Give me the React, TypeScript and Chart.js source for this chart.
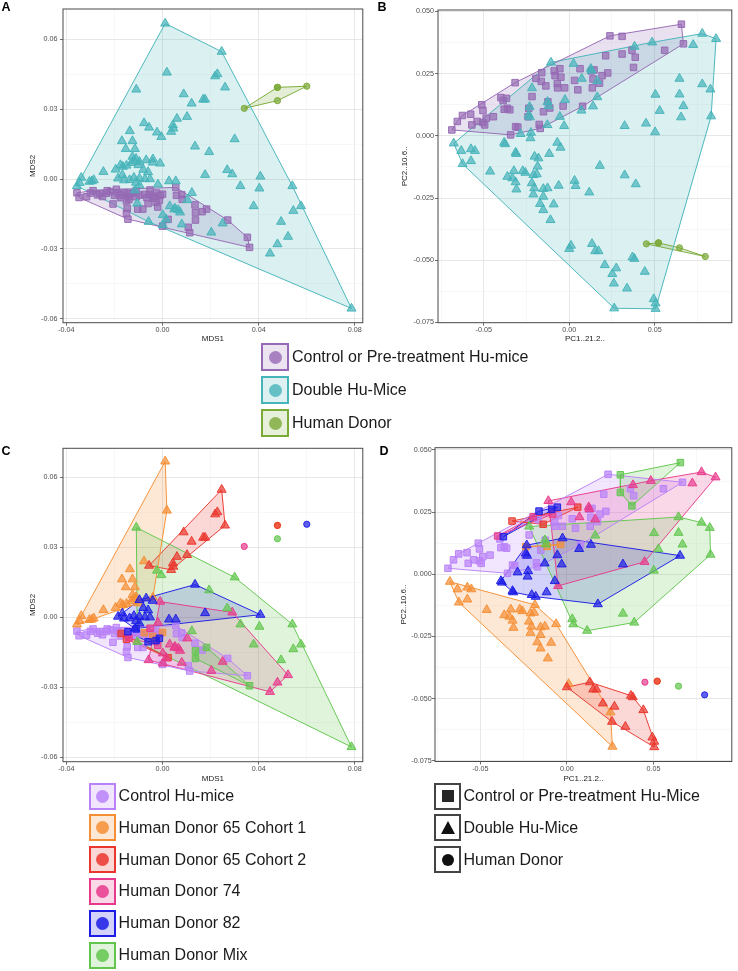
import React, { useEffect, useRef } from 'react';
import { Chart, registerables } from 'chart.js';
Chart.register(...registerables);

type P = [number, number];

// ================= MDS coordinates (panels A and C) =================
const mdsControlSq: P[] = [
  [-0.0356, -0.0059], [-0.0347, -0.0079], [-0.0316, -0.0076], [-0.0289, -0.005], [-0.0261, -0.0061],
  [-0.0234, -0.0061], [-0.0217, -0.0054], [-0.0192, -0.0044], [-0.0206, -0.0107], [-0.0158, -0.0058],
  [-0.0147, -0.0126], [-0.0144, -0.0172], [-0.015, -0.0147], [-0.011, -0.0076], [-0.0096, -0.0069],
  [-0.0103, -0.0129], [-0.0082, -0.0129], [-0.0065, -0.008], [-0.0055, -0.0067], [-0.0035, -0.0074],
  [-0.0025, -0.006], [-0.001, -0.007], [0.0, -0.0202], [0.0055, -0.0036], [0.0058, -0.007],
  [0.008, -0.0067], [0.0082, -0.0087], [0.0135, -0.0111], [0.0165, -0.014], [0.0107, -0.0207],
  [0.0113, -0.023], [0.0271, -0.0176], [0.0353, -0.025], [-0.0185, -0.006], [-0.023, -0.005],
  [-0.027, -0.0068], [-0.0125, -0.006], [-0.03, -0.006], [-0.025, -0.0075], [-0.02, -0.007],
  [-0.0175, -0.008], [-0.014, -0.0075]
];
const mds65c1Sq: P[] = [[-0.0075, -0.0066], [0.0, -0.0065], [-0.004, -0.0082]];
const mds65c2Sq: P[] = [[-0.0172, -0.0069], [-0.015, -0.0094], [0.0023, -0.0173]];
const mds74Sq: P[] = [[-0.014, -0.0088], [-0.002, -0.012], [-0.0052, -0.0047]];
const mds82Sq: P[] = [[-0.0144, -0.0062], [-0.0027, -0.01], [-0.0013, -0.009], [-0.006, -0.0105], [-0.011, -0.005]];
const mdsMixSq: P[] = [[0.0137, -0.0144], [0.0137, -0.0176], [0.0183, -0.0129], [0.0362, -0.0293]];

const mds65c1Tri: P[] = [
  [0.0011, 0.0667], [0.0018, 0.0457], [-0.0077, 0.024], [-0.0136, 0.0206], [-0.0169, 0.0163],
  [-0.0125, 0.0163], [-0.0153, 0.0129], [-0.0115, 0.0129], [-0.0356, -0.003], [-0.0338, 0.0006],
  [-0.0345, -0.0016], [-0.0294, -0.0009], [-0.0286, -0.0004], [-0.0304, -0.0011], [-0.0246, 0.0031],
  [-0.0195, 0.0041], [-0.0175, 0.006], [-0.0165, 0.0053], [-0.015, 0.0058], [-0.013, 0.0069],
  [-0.012, 0.0078], [-0.011, 0.0087], [-0.0125, 0.0096], [-0.01, 0.006], [-0.004, 0.0085]
];
const mds65c2Tri: P[] = [
  [0.0246, 0.0546], [0.0219, 0.0441], [0.0228, 0.045], [0.026, 0.0393], [0.0088, 0.0364],
  [0.0121, 0.0324], [0.0169, 0.0341], [0.0177, 0.0341], [0.006, 0.0259], [0.0102, 0.0267],
  [0.0043, 0.0231], [0.0045, 0.0217], [0.0036, 0.0203], [-0.0056, 0.0221]
];
const mds74Tri: P[] = [
  [-0.001, 0.0067], [0.029, 0.0021], [0.003, -0.0116], [0.0052, -0.0126], [0.0066, -0.0133],
  [0.0073, -0.0143], [0.0103, -0.009], [-0.0058, -0.0183], [0.008, -0.0194], [0.0203, -0.0229],
  [0.025, -0.019], [0.0522, -0.0247], [0.0478, -0.0279], [0.0447, -0.0319], [0.0001, -0.0154],
  [0.0001, -0.0197], [0.0015, -0.0173], [0.0049, -0.013], [-0.0019, -0.0023]
];
const mds82Tri: P[] = [
  [0.0135, 0.014], [0.0407, 0.0011], [0.0177, 0.0018], [-0.0096, 0.0074], [-0.0068, 0.0081],
  [-0.0041, 0.0071], [-0.0185, 0.0003], [-0.0167, 0.0017], [-0.0137, -0.0004], [-0.0119, 0.0006],
  [-0.0096, 0.0003], [-0.0073, 0.0], [-0.0052, 0.0], [-0.0096, -0.0026], [0.0027, -0.0009],
  [0.0055, -0.0009], [-0.011, -0.0015], [-0.016, -0.0005], [-0.0115, -0.0048], [-0.008, 0.004],
  [-0.006, 0.003]
];
const mdsMixTri: P[] = [
  [-0.0109, 0.0384], [-0.0023, 0.02], [-0.0005, 0.0181], [0.03, 0.0171], [0.0194, 0.0116],
  [0.0269, 0.0039], [0.0324, -0.003], [0.0403, -0.004], [0.054, -0.003], [0.0576, -0.0116],
  [0.0544, -0.0136], [0.0379, -0.0116], [0.0493, -0.0183], [0.0122, -0.0059], [0.0786, -0.0555],
  [-0.0105, -0.0105]
];
const mdsDonor65: P[] = [[0.0478, 0.0393]];
const mdsDonor74: P[] = [[0.034, 0.0303]];
const mdsDonor82: P[] = [[0.06, 0.0398]];
const mdsDonorMix: P[] = [[0.0478, 0.0336]];

// ================= PCA coordinates (panels B and D) =================
const pcaControlSq: P[] = [
  [-0.0687, 0.0024], [-0.0655, 0.0058], [-0.0625, 0.0082], [-0.0577, 0.0087], [-0.0512, 0.0125],
  [-0.0505, 0.0102], [-0.057, 0.0044], [-0.0539, 0.0058], [-0.0505, 0.0054], [-0.0486, 0.0071],
  [-0.0495, 0.0044], [-0.0444, 0.0077], [-0.0387, 0.0142], [-0.0381, 0.0107], [-0.0362, 0.0111],
  [-0.0348, 0.0105], [-0.0314, 0.0037], [-0.0301, 0.0035], [-0.0343, 0.0004], [-0.0241, 0.0077],
  [-0.0218, 0.0158], [-0.0164, 0.0219], [-0.0176, 0.0046], [-0.017, 0.003], [-0.0151, 0.0097],
  [-0.0125, 0.0137], [-0.007, 0.021], [-0.0068, 0.0193], [-0.0027, 0.0193], [-0.0049, 0.0236],
  [0.0031, 0.0223], [0.005, 0.0185], [0.0078, 0.0119], [0.0129, 0.0261], [0.0139, 0.0229],
  [0.0145, 0.0265], [0.0135, 0.0193], [0.0177, 0.0212], [0.0192, 0.0242], [0.0225, 0.0253],
  [0.0213, 0.0322], [0.0238, 0.0402], [0.0367, 0.0344], [0.0386, 0.0316], [0.0558, 0.0344],
  [0.0668, 0.037]
];
const pca65c1Sq: P[] = [[-0.0237, 0.0111], [-0.0114, 0.0112], [-0.0036, 0.012]];
const pca65c2Sq: P[] = [[-0.0317, 0.0214], [0.0063, 0.027], [-0.0137, 0.0201]];
const pca74Sq: P[] = [[-0.04, 0.0154], [-0.0195, 0.0231], [-0.0083, 0.0242]];
const pca82Sq: P[] = [[-0.0367, 0.0151], [-0.0161, 0.0254], [-0.0088, 0.0261], [-0.0055, 0.027]];
const pcaMixSq: P[] = [[0.0656, 0.0449], [0.0309, 0.04], [0.0309, 0.0329], [0.0376, 0.0275]];

const pca65c1Tri: P[] = [
  [-0.0676, -0.003], [-0.0632, -0.006], [-0.0575, -0.0053], [-0.0552, -0.006], [-0.0624, -0.0113],
  [-0.0575, -0.0101], [-0.0463, -0.0143], [-0.0362, -0.0164], [-0.0324, -0.0141], [-0.0333, -0.017],
  [-0.0314, -0.0186], [-0.0309, -0.0215], [-0.0272, -0.0141], [-0.0257, -0.0148], [-0.021, -0.0157],
  [-0.019, -0.0154], [-0.0185, -0.0123], [-0.0219, -0.019], [-0.0205, -0.021], [-0.021, -0.0235],
  [-0.0152, -0.0213], [-0.0127, -0.021], [-0.0062, -0.02], [-0.0152, -0.0244], [-0.0171, -0.0273],
  [-0.0152, -0.0298], [-0.0091, -0.0275], [-0.011, -0.0338], [0.001, -0.0441], [0.0252, -0.0555],
  [0.0263, -0.0693]
];
const pca65c2Tri: P[] = [
  [0.0, -0.0454], [0.0133, -0.0434], [0.0152, -0.0463], [0.0171, -0.0463], [0.0208, -0.0519],
  [0.0275, -0.0532], [0.037, -0.0488], [0.0381, -0.0494], [0.0442, -0.0546], [0.0338, -0.0613],
  [0.0505, -0.0673], [0.0505, -0.0695], [0.0261, -0.0593], [0.0494, -0.0656]
];
const pca74Tri: P[] = [
  [-0.0107, 0.0295], [0.0025, 0.029], [0.0126, 0.027], [0.013, 0.0262], [0.0073, 0.023],
  [0.0164, 0.0221], [0.0382, 0.0359], [0.0485, 0.0376], [0.0725, 0.0366], [0.0778, 0.0411],
  [0.0859, 0.039], [0.0449, 0.005], [-0.0051, -0.0047]
];
const pca82Tri: P[] = [
  [-0.0381, -0.0027], [-0.0375, -0.0033], [-0.0232, 0.0117], [-0.0237, 0.0084], [-0.023, 0.0075],
  [-0.0128, 0.0044], [-0.0055, 0.0077], [-0.003, 0.004], [0.0071, 0.0102], [0.0139, 0.0119],
  [0.0324, 0.004], [0.0654, 0.0075], [-0.0025, 0.0145], [-0.0314, -0.0067], [-0.031, -0.0072],
  [-0.0203, -0.0083], [-0.018, -0.009], [-0.0117, -0.0072], [-0.0285, 0.0008], [-0.0224, 0.0013],
  [-0.0227, -0.0009], [0.0179, -0.012], [-0.007, -0.0027]
];
const pcaMixTri: P[] = [
  [-0.0218, 0.0192], [0.0164, 0.0156], [0.0645, 0.023], [0.0778, 0.0208], [0.0826, 0.0187],
  [0.083, 0.0079], [0.0645, 0.0167], [0.0668, 0.012], [0.0504, 0.0166], [0.0529, 0.0101],
  [0.0502, 0.0015], [0.0031, -0.018], [0.0037, -0.0201], [0.0117, -0.0227], [0.0324, -0.0158],
  [0.0389, -0.0194], [-0.0127, 0.0137], [-0.0122, 0.012]
];
const pcaDonor65: P[] = [[0.0522, -0.043]];
const pcaDonor74: P[] = [[0.0451, -0.0434]];
const pcaDonor82: P[] = [[0.0796, -0.0485]];
const pcaDonorMix: P[] = [[0.0645, -0.045]];

// ================= labels =================
const typeLabels = ['Control or Pre-treatment Hu-mice', 'Double Hu-Mice', 'Human Donor'];
const shapeLegendLabels = ['Control or Pre-treatment Hu-Mice', 'Double Hu-Mice', 'Human Donor'];
const donorLabels = ['Control Hu-mice', 'Human Donor 65 Cohort 1', 'Human Donor 65 Cohort 2', 'Human Donor 74', 'Human Donor 82', 'Human Donor Mix'];

// ================= styling =================
const FONT = '"Liberation Sans", Arial, Helvetica, sans-serif';
const PURPLE = [150, 105, 180];
const TEAL = [70, 180, 185];
const OLIVE = [122, 170, 55];
const LAV = [185, 130, 248];
const ORANGE = [245, 142, 52];
const RED = [234, 55, 45];
const PINK = [232, 58, 140];
const BLUE = [28, 28, 230];
const GREEN = [98, 198, 78];
const DONOR_COLORS = [LAV, ORANGE, RED, PINK, BLUE, GREEN];

const rgba = (c: number[], a: number) => `rgba(${c[0]},${c[1]},${c[2]},${a})`;
const RADIUS: Record<string, number> = { rect: 4.6, triangle: 5.2, circle: 3.1 };

type Series = { pts: P[]; shape: 'rect' | 'triangle' | 'circle'; rgb: number[] };

function hullOf(pts: P[]): P[] {
  const p = [...pts].sort((a, b) => a[0] - b[0] || a[1] - b[1]);
  if (p.length < 3) return p;
  const cross = (o: P, a: P, b: P) => (a[0] - o[0]) * (b[1] - o[1]) - (a[1] - o[1]) * (b[0] - o[0]);
  const lower: P[] = [];
  for (const q of p) {
    while (lower.length >= 2 && cross(lower[lower.length - 2], lower[lower.length - 1], q) <= 0) lower.pop();
    lower.push(q);
  }
  const upper: P[] = [];
  for (let i = p.length - 1; i >= 0; i--) {
    const q = p[i];
    while (upper.length >= 2 && cross(upper[upper.length - 2], upper[upper.length - 1], q) <= 0) upper.pop();
    upper.push(q);
  }
  upper.pop();
  lower.pop();
  return lower.concat(upper);
}

function buildDatasets(series: Series[]) {
  const hulls: any[] = [];
  const points: any[] = [];
  series.forEach((s, idx) => {
    const h = hullOf(s.pts);
    if (h.length >= 3) {
      const closed = [...h, h[0]];
      hulls.push({
        data: closed.map(([x, y]) => ({ x, y })),
        showLine: true,
        pointRadius: 0,
        pointHoverRadius: 0,
        borderColor: rgba(s.rgb, 0.95),
        borderWidth: 1,
        backgroundColor: 'rgba(0,0,0,0)',
        fill: false,
        tension: 0,
        hullFill: rgba(s.rgb, 0.2),
        order: 100 + idx,
      });
    }
    points.push({
      data: s.pts.map(([x, y]) => ({ x, y })),
      showLine: false,
      pointStyle: s.shape,
      pointRadius: RADIUS[s.shape],
      pointHoverRadius: RADIUS[s.shape],
      pointBackgroundColor: rgba(s.rgb, 0.7),
      pointBorderColor: rgba(s.rgb, 0.95),
      pointBorderWidth: 1,
      order: 50 - idx,
    });
  });
  return [...hulls, ...points];
}

const hullFillPlugin = {
  id: 'hullFill',
  beforeDatasetsDraw(chart: any) {
    const { ctx, chartArea } = chart;
    ctx.save();
    ctx.beginPath();
    ctx.rect(chartArea.left, chartArea.top, chartArea.right - chartArea.left, chartArea.bottom - chartArea.top);
    ctx.clip();
    chart.data.datasets.forEach((ds: any, i: number) => {
      if (!ds.hullFill) return;
      const meta = chart.getDatasetMeta(i);
      ctx.beginPath();
      meta.data.forEach((pt: any, k: number) => (k ? ctx.lineTo(pt.x, pt.y) : ctx.moveTo(pt.x, pt.y)));
      ctx.closePath();
      ctx.fillStyle = ds.hullFill;
      ctx.fill();
    });
    ctx.restore();
  },
};

const framePlugin = {
  id: 'frame',
  afterDatasetsDraw(chart: any) {
    const { ctx, chartArea: a } = chart;
    ctx.save();
    ctx.strokeStyle = '#4a4a4a';
    ctx.lineWidth = 1;
    ctx.strokeRect(a.left, a.top, a.right - a.left, a.bottom - a.top);
    ctx.restore();
  },
};

type PanelCfg = {
  left: number; top: number; w: number; h: number;
  area: { l: number; t: number; r: number; b: number };
  x: [number, number]; y: [number, number];
  xStep: number; xMajor: number; xDec: number;
  yStep: number; yMajor: number; yDec: number;
  xTitle: string; yTitle: string;
  yTitleX: number; xTitleY: number; yTickPad: number;
  series: Series[];
};

const isMajor = (v: number, major: number) => Math.abs(v / major - Math.round(v / major)) < 1e-6;

function axisOpts(cfg: PanelCfg, horizontal: boolean) {
  const [min, max] = horizontal ? cfg.x : cfg.y;
  const step = horizontal ? cfg.xStep : cfg.yStep;
  const major = horizontal ? cfg.xMajor : cfg.yMajor;
  const dec = horizontal ? cfg.xDec : cfg.yDec;
  return {
    type: 'linear',
    position: horizontal ? 'bottom' : 'left',
    min,
    max,
    afterFit: (s: any) => {
      if (horizontal) s.height = cfg.h - cfg.area.b;
      else s.width = cfg.area.l;
    },
    ticks: {
      stepSize: step,
      includeBounds: false,
      autoSkip: false,
      maxTicksLimit: 100,
      maxRotation: 0,
      minRotation: 0,
      padding: horizontal ? 0 : cfg.yTickPad,
      color: '#4d4d4d',
      font: { size: 7.2, family: FONT },
      callback: (v: any) => (isMajor(Number(v), major) ? Number(v).toFixed(dec) : ''),
    },
    grid: {
      color: (c: any) => (c.tick && isMajor(c.tick.value, major) ? '#e4e4e4' : '#f1f1f1'),
      lineWidth: (c: any) => (c.tick && isMajor(c.tick.value, major) ? 0.9 : 0.6),
      tickColor: (c: any) => (c.tick && isMajor(c.tick.value, major) ? '#4a4a4a' : 'rgba(0,0,0,0)'),
      tickWidth: 0.8,
      tickLength: 3,
      drawTicks: true,
    },
    border: { display: false },
    title: {
      display: true,
      text: horizontal ? cfg.xTitle : cfg.yTitle,
      color: '#1a1a1a',
      font: { size: 8, family: FONT },
      padding: horizontal
        ? { top: 0, bottom: cfg.h - cfg.xTitleY - 4.8 }
        : { top: cfg.yTitleX - 4.8, bottom: 0 },
    },
  };
}

function Panel({ cfg }: { cfg: PanelCfg }) {
  const ref = useRef<HTMLCanvasElement>(null);
  useEffect(() => {
    const chart = new Chart(ref.current as HTMLCanvasElement, {
      type: 'scatter',
      data: { datasets: buildDatasets(cfg.series) as any },
      options: {
        animation: false,
        responsive: false,
        devicePixelRatio: 1,
        events: [],
        layout: { padding: { left: 0, top: cfg.area.t, right: cfg.w - cfg.area.r, bottom: 0 } },
        plugins: { legend: { display: false }, tooltip: { enabled: false } },
        scales: { x: axisOpts(cfg, true) as any, y: axisOpts(cfg, false) as any },
      },
      plugins: [hullFillPlugin, framePlugin],
    } as any);
    return () => chart.destroy();
  }, []);
  return (
    <canvas
      ref={ref}
      width={cfg.w}
      height={cfg.h}
      style={{ position: 'absolute', left: cfg.left, top: cfg.top, width: cfg.w, height: cfg.h }}
    />
  );
}

// ---- series for each panel ----
const mdsSq = [mdsControlSq, mds65c1Sq, mds65c2Sq, mds74Sq, mds82Sq, mdsMixSq];
const mdsTri = [[] as P[], mds65c1Tri, mds65c2Tri, mds74Tri, mds82Tri, mdsMixTri];
const mdsDonor = [[] as P[], mdsDonor65, mdsDonor65, mdsDonor74, mdsDonor82, mdsDonorMix];
const pcaSq = [pcaControlSq, pca65c1Sq, pca65c2Sq, pca74Sq, pca82Sq, pcaMixSq];
const pcaTri = [[] as P[], pca65c1Tri, pca65c2Tri, pca74Tri, pca82Tri, pcaMixTri];
const pcaDonor = [[] as P[], pcaDonor65, pcaDonor65, pcaDonor74, pcaDonor82, pcaDonorMix];

const byType = (sq: P[][], tri: P[][], don: P[][]): Series[] => [
  { pts: ([] as P[]).concat(...sq), shape: 'rect', rgb: PURPLE },
  { pts: ([] as P[]).concat(...tri), shape: 'triangle', rgb: TEAL },
  { pts: ([] as P[]).concat(...don), shape: 'circle', rgb: OLIVE },
];
const byDonor = (sq: P[][], tri: P[][], don: P[][]): Series[] => {
  const out: Series[] = [];
  DONOR_COLORS.forEach((c, i) => {
    if (sq[i].length) out.push({ pts: sq[i], shape: 'rect', rgb: c });
    if (tri[i].length) out.push({ pts: tri[i], shape: 'triangle', rgb: c });
    if (don[i].length) out.push({ pts: don[i], shape: 'circle', rgb: c });
  });
  return out;
};

const mdsBase = {
  w: 369, h: 345,
  xStep: 0.02, xMajor: 0.04, xDec: 2,
  yStep: 0.015, yMajor: 0.03, yDec: 2,
  xTitle: 'MDS1', yTitle: 'MDS2', yTickPad: 2.5, xTitleY: 339,
};
const pcaBase = {
  w: 368, h: 345,
  xStep: 0.025, xMajor: 0.05, xDec: 2,
  yStep: 0.0125, yMajor: 0.025, yDec: 3,
  xTitle: 'PC1..21.2..', yTitle: 'PC2..10.6..', xTitleY: 339,
};

const panelA: PanelCfg = {
  ...mdsBase, left: 0, top: 0,
  area: { l: 63, t: 9, r: 366, b: 322.7 },
  x: [-0.0414, 0.0833], y: [-0.0616, 0.0729], yTitleX: 33,
  series: byType(mdsSq, mdsTri, mdsDonor),
} as PanelCfg;
const panelB: PanelCfg = {
  ...pcaBase, left: 370, top: 0,
  area: { l: 68, t: 10, r: 367, b: 322.7 },
  x: [-0.0768, 0.0951], y: [-0.0751, 0.0506], yTitleX: 35, yTickPad: 1,
  series: byType(pcaSq, pcaTri, pcaDonor),
} as PanelCfg;
const panelC: PanelCfg = {
  ...mdsBase, left: 0, top: 440,
  area: { l: 63, t: 8.3, r: 366, b: 321.7 },
  x: [-0.0414, 0.0833], y: [-0.0618, 0.0723], yTitleX: 33,
  series: byDonor(mdsSq, mdsTri, mdsDonor),
} as PanelCfg;
const panelD: PanelCfg = {
  ...pcaBase, left: 370, top: 440,
  area: { l: 65, t: 7.7, r: 365, b: 321.5 },
  x: [-0.0762, 0.0953], y: [-0.0753, 0.0509], yTitleX: 33.3, yTickPad: 0.3,
  series: byDonor(pcaSq, pcaTri, pcaDonor),
} as PanelCfg;

// ---- legends (HTML) ----
function Key({ x, cy, w, h, border, bw = 2, bg, children }: any) {
  return (
    <div
      style={{
        position: 'absolute', left: x, top: cy - h / 2, width: w, height: h, boxSizing: 'border-box',
        border: `${bw}px solid ${border}`, background: bg, display: 'flex', alignItems: 'center', justifyContent: 'center',
      }}
    >
      {children}
    </div>
  );
}
function Label({ x, cy, text }: { x: number; cy: number; text: string }) {
  return (
    <div
      style={{
        position: 'absolute', left: x, top: cy - 10, height: 20, lineHeight: '20px', fontSize: 16,
        fontFamily: FONT, color: '#1a1a1a', whiteSpace: 'nowrap',
      }}
    >
      {text}
    </div>
  );
}
const Dot = ({ color, size = 13 }: { color: string; size?: number }) => (
  <div style={{ width: size, height: size, borderRadius: '50%', background: color }} />
);

function Letter({ x, y, t }: { x: number; y: number; t: string }) {
  return (
    <div style={{ position: 'absolute', left: x, top: y, fontFamily: FONT, fontWeight: 'bold', fontSize: 12.5, lineHeight: '14px', color: '#000' }}>
      {t}
    </div>
  );
}

export default function App() {
  const typeColors = [PURPLE, TEAL, OLIVE];
  const abCenters = [357, 390, 423];
  const cCenters = [796, 827.8, 859.6, 891.4, 923.2, 955];
  return (
    <div style={{ position: 'absolute', left: 0, top: 0, width: 738, height: 971, background: '#fff', overflow: 'hidden' }}>
      <Panel cfg={panelA} />
      <Panel cfg={panelB} />
      <Panel cfg={panelC} />
      <Panel cfg={panelD} />
      <Letter x={1.5} y={0} t="A" />
      <Letter x={377.5} y={0} t="B" />
      <Letter x={1.5} y={443.5} t="C" />
      <Letter x={379.5} y={443.5} t="D" />
      {typeLabels.map((t, i) => (
        <React.Fragment key={t}>
          <Key x={261} cy={abCenters[i]} w={28} h={28} border={rgba(typeColors[i], 1)} bg={rgba(typeColors[i], 0.18)}>
            <Dot color={rgba(typeColors[i], 0.8)} />
          </Key>
          <Label x={292} cy={abCenters[i]} text={t} />
        </React.Fragment>
      ))}
      {donorLabels.map((t, i) => (
        <React.Fragment key={t}>
          <Key x={89} cy={cCenters[i]} w={27} h={27} border={rgba(DONOR_COLORS[i], 1)} bg={rgba(DONOR_COLORS[i], 0.2)}>
            <Dot color={rgba(DONOR_COLORS[i], 0.85)} />
          </Key>
          <Label x={118.6} cy={cCenters[i]} text={t} />
        </React.Fragment>
      ))}
      {shapeLegendLabels.map((t, i) => (
        <React.Fragment key={t}>
          <Key x={434} cy={cCenters[i]} w={27} h={27} bw={2.5} border="#444444" bg="#ffffff">
            {i === 0 && <div style={{ width: 12, height: 12, background: '#262626' }} />}
            {i === 1 && (
              <div style={{ width: 0, height: 0, borderLeft: '7.5px solid transparent', borderRight: '7.5px solid transparent', borderBottom: '13px solid #111' }} />
            )}
            {i === 2 && <Dot color="#111" size={12} />}
          </Key>
          <Label x={463.5} cy={cCenters[i]} text={t} />
        </React.Fragment>
      ))}
    </div>
  );
}
